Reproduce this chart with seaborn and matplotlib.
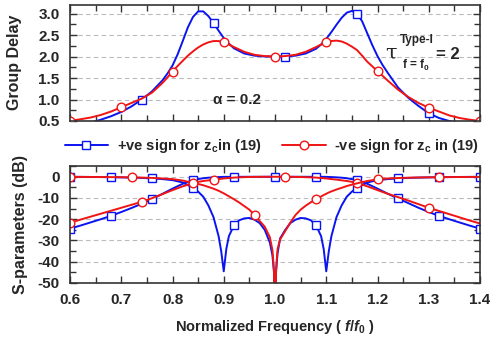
import numpy as np
import matplotlib
matplotlib.use('Agg')
import matplotlib.pyplot as plt
import seaborn as sns
from matplotlib.ticker import MultipleLocator, FormatStrFormatter

# ---------------- data: group delay (top panel) ----------------
f_gd = [0.60, 0.62, 0.64, 0.66, 0.68, 0.70, 0.72, 0.74, 0.76, 0.78,
        0.79, 0.80, 0.81, 0.82, 0.83, 0.84, 0.85, 0.86, 0.87, 0.88, 0.89, 0.90, 0.91, 0.92,
        0.94, 0.96, 0.98, 1.00, 1.02, 1.04, 1.06, 1.08,
        1.09, 1.10, 1.11, 1.12, 1.13, 1.14, 1.15, 1.16, 1.17, 1.18, 1.19, 1.20, 1.21, 1.22,
        1.24, 1.26, 1.28, 1.30, 1.32, 1.34, 1.36, 1.38, 1.40]
gd_pos = [0.36, 0.40, 0.46, 0.53, 0.61, 0.71, 0.84, 1.00, 1.19, 1.44,
          1.60, 1.79, 2.05, 2.36, 2.68, 2.92, 3.05, 3.05, 2.94, 2.78, 2.60, 2.43, 2.30, 2.19,
          2.07, 2.02, 2.00, 2.00, 2.00, 2.02, 2.07, 2.18,
          2.28, 2.41, 2.57, 2.74, 2.90, 3.02, 3.06, 3.00, 2.82, 2.54, 2.26, 2.01, 1.80, 1.62,
          1.28, 1.04, 0.85, 0.68, 0.57, 0.50, 0.44, 0.40, 0.37]
gd_neg = [0.50, 0.54, 0.58, 0.64, 0.72, 0.82, 0.92, 1.02, 1.16, 1.38,
          1.51, 1.65, 1.78, 1.90, 2.02, 2.12, 2.21, 2.28, 2.33, 2.36, 2.36, 2.33, 2.28, 2.22,
          2.11, 2.04, 2.01, 2.00, 2.01, 2.04, 2.11, 2.22,
          2.28, 2.33, 2.36, 2.37, 2.35, 2.30, 2.23, 2.15, 2.02, 1.88, 1.77, 1.66, 1.55, 1.44,
          1.23, 1.06, 0.92, 0.81, 0.72, 0.63, 0.57, 0.53, 0.50]
gd_pos_marks = [0.74, 0.88, 1.02, 1.16, 1.30]
gd_neg_marks = [0.6, 0.7, 0.8, 0.9, 1.0, 1.1, 1.2, 1.3, 1.4]

# ---------------- data: S-parameters (bottom panel) ----------------
f_sp = [0.60, 0.62, 0.64, 0.66, 0.68, 0.70, 0.72, 0.74, 0.76, 0.78, 0.80, 0.82, 0.84,
        0.85, 0.86, 0.87, 0.88, 0.89, 0.895, 0.90, 0.905, 0.91, 0.92, 0.93, 0.94, 0.95,
        0.96, 0.97, 0.98, 0.99, 0.995, 0.998, 1.00, 1.002, 1.005, 1.01, 1.02, 1.03, 1.04,
        1.05, 1.06, 1.07, 1.08, 1.09, 1.095, 1.10, 1.105, 1.11, 1.12, 1.13, 1.14, 1.15,
        1.16, 1.18, 1.20, 1.22, 1.24, 1.26, 1.28, 1.30, 1.32, 1.34, 1.36, 1.38, 1.40]
s21_pos = [-24.4, -23.0, -21.5, -20.0, -18.4, -16.6, -14.7, -12.7, -10.5, -8.1, -5.6, -3.3, -1.6,
           -1.1, -0.7, -0.45, -0.28, -0.15, -0.1, -0.05, -0.04, -0.05, -0.06, -0.04, -0.02, -0.01,
           -0.02, -0.03, -0.02, -0.01, -0.01, -0.01, -0.01, -0.01, -0.01, -0.01, -0.02, -0.03, -0.02,
           -0.01, -0.02, -0.04, -0.06, -0.05, -0.04, -0.05, -0.1, -0.15, -0.28, -0.45, -0.7, -1.1,
           -1.6, -3.3, -5.6, -8.0, -10.2, -12.4, -14.6, -16.6, -18.4, -20.0, -21.5, -23.0, -24.4]
s11_pos = [-0.05, -0.06, -0.1, -0.15, -0.2, -0.3, -0.4, -0.55, -0.8, -1.1, -1.6, -2.7, -5.2,
           -7.0, -9.4, -13.5, -19.0, -28.0, -35.0, -44.5, -34.0, -28.0, -22.8, -20.5, -19.6, -19.4,
           -20.2, -21.8, -25.0, -31.0, -37.0, -45.0, -70.0, -45.0, -36.0, -29.0, -25.0, -21.8, -20.2,
           -19.4, -19.6, -20.5, -22.8, -28.0, -34.0, -44.5, -35.0, -28.0, -19.0, -13.5, -9.4, -7.0,
           -5.2, -2.7, -1.6, -1.1, -0.8, -0.55, -0.4, -0.3, -0.2, -0.15, -0.1, -0.06, -0.05]
s21_neg = [-21.7, -20.2, -18.8, -17.4, -16.0, -14.6, -13.2, -11.8, -10.1, -8.2, -6.3, -4.5, -3.0,
           -2.4, -2.0, -1.7, -1.45, -1.1, -0.95, -0.8, -0.7, -0.6, -0.4, -0.27, -0.18, -0.11,
           -0.07, -0.04, -0.02, -0.01, -0.0, -0.0, -0.0, -0.0, -0.0, -0.01, -0.01, -0.03, -0.07,
           -0.12, -0.2, -0.28, -0.4, -0.6, -0.7, -0.8, -0.95, -1.1, -1.35, -1.7, -2.0, -2.4,
           -2.9, -4.5, -6.3, -8.0, -9.6, -11.2, -12.9, -14.6, -16.1, -17.6, -19.1, -20.6, -22.0]
s11_neg = [-0.05, -0.07, -0.1, -0.13, -0.17, -0.22, -0.3, -0.4, -0.55, -0.8, -1.1, -1.8, -2.9,
           -3.4, -4.0, -4.8, -5.6, -6.6, -7.2, -7.8, -8.5, -9.2, -10.6, -12.1, -13.8, -15.5,
           -18.0, -20.8, -23.5, -28.5, -34.5, -44.0, -80.0, -44.0, -34.0, -29.5, -25.5, -21.5, -18.0,
           -15.5, -13.6, -12.0, -10.7, -9.3, -8.6, -8.0, -7.4, -6.9, -6.0, -5.2, -4.4, -3.7,
           -3.1, -2.0, -1.2, -0.8, -0.6, -0.45, -0.35, -0.28, -0.22, -0.17, -0.13, -0.1, -0.07]
sp_pos_marks = [0.60, 0.68, 0.76, 0.84, 0.92, 1.00, 1.08, 1.16, 1.24, 1.32, 1.40]
s11_neg_marks = [0.60, 0.72, 0.84, 0.96, 1.08, 1.20, 1.32]
s21_neg_marks = [0.60, 0.74, 0.88, 1.02, 1.16, 1.30]

legend_labels = [r'+ve sign for z$_{\mathrm{c}}$in (19)', r'-ve sign for z$_{\mathrm{c}}$ in (19)']

BLUE = '#0A14F0'
RED = '#F01414'

sns.set_style('ticks')
plt.rcParams['font.family'] = ['Liberation Sans', 'DejaVu Sans']
plt.rcParams['font.weight'] = 'bold'
plt.rcParams['axes.unicode_minus'] = False
plt.rcParams['mathtext.fontset'] = 'custom'
plt.rcParams['mathtext.rm'] = 'Liberation Sans:bold'
plt.rcParams['mathtext.it'] = 'Liberation Sans:italic:bold'
plt.rcParams['mathtext.bf'] = 'Liberation Sans:bold'

W, H = 490, 341
fig = plt.figure(figsize=(W / 100, H / 100), dpi=100)
ax1 = fig.add_axes([70 / W, 1 - 121 / H, 410 / W, (121 - 4.5) / H])
ax2 = fig.add_axes([70 / W, 1 - 283 / H, 410 / W, (283 - 165.7) / H])


def draw(ax, x, y, marks, color, marker, ms):
    xa = np.asarray(x)
    idx = [int(np.argmin(np.abs(xa - v))) for v in marks]
    sns.lineplot(x=x, y=y, ax=ax, color=color, linewidth=1.4, marker=marker,
                 markevery=idx, markersize=ms, markerfacecolor='white',
                 markeredgecolor=color, markeredgewidth=1.0,
                 estimator=None, sort=False, legend=False)
    return ax.lines[-1]


draw(ax1, f_gd, gd_pos, gd_pos_marks, BLUE, 's', 5.6)
draw(ax1, f_gd, gd_neg, gd_neg_marks, RED, 'o', 6.2)

h1 = draw(ax2, f_sp, s21_pos, sp_pos_marks, BLUE, 's', 5.6)
draw(ax2, f_sp, s11_pos, sp_pos_marks, BLUE, 's', 5.6)
h2 = draw(ax2, f_sp, s21_neg, s21_neg_marks, RED, 'o', 6.2)
draw(ax2, f_sp, s11_neg, s11_neg_marks, RED, 'o', 6.2)

ax1.set_xlim(0.6, 1.4)
ax1.set_ylim(0.5, 3.21)
ax2.set_xlim(0.6, 1.4)
ax2.set_ylim(-50, 5.2)

for ax in (ax1, ax2):
    ax.xaxis.set_major_locator(MultipleLocator(0.1))
    ax.xaxis.set_minor_locator(MultipleLocator(0.05))
    ax.tick_params(which='both', direction='in', top=True, right=True,
                   width=1.0, color='#333333', labelsize=11, pad=7.5)
    ax.tick_params(which='major', length=5)
    ax.tick_params(which='minor', length=4)
    ax.yaxis.grid(True, linestyle=(0, (4, 3)), color='#bbbbbb', linewidth=0.8)
    ax.xaxis.grid(False)
    ax.set_axisbelow(True)
    for s in ax.spines.values():
        s.set_color('#333333')
        s.set_linewidth(1.2)
    for lab in ax.get_xticklabels() + ax.get_yticklabels():
        lab.set_fontweight('bold')

ax1.yaxis.set_major_locator(MultipleLocator(0.5))
ax1.yaxis.set_minor_locator(MultipleLocator(0.25))
ax1.yaxis.set_major_formatter(FormatStrFormatter('%.1f'))
ax1.tick_params(labelbottom=False)
ax2.yaxis.set_major_locator(MultipleLocator(10))
ax2.yaxis.set_minor_locator(MultipleLocator(5))
ax2.xaxis.set_major_formatter(FormatStrFormatter('%.1f'))

ax1.set_xlabel('')
ax1.set_ylabel('Group Delay', fontsize=11.5, fontweight='bold')
ax1.yaxis.set_label_coords(-0.116, 0.5)
ax2.set_ylabel('S-parameters (dB)', fontsize=11.5, fontweight='bold')
ax2.yaxis.set_label_coords(-0.103, 0.5)
ax2.set_xlabel(r'Normalized Frequency ( $f/f_{0}$ )', fontsize=10.5, fontweight='bold')
ax2.xaxis.set_label_coords(0.5, -0.30)

# annotations
ax1.text(0.926, 1.0, '\u03b1 = 0.2', fontsize=11, fontweight='bold', ha='center', va='center')
ax1.text(1.226, 2.08, '\u03c4', fontsize=15, family=['DejaVu Serif'], fontweight='normal',
         ha='center', va='center')
ax1.text(1.277, 2.38, 'Type-I', fontsize=8.5, fontweight='bold', ha='center', va='center')
ax1.text(1.275, 1.80, r'f = f$_{0}$', fontsize=8.5, fontweight='bold', ha='center', va='center')
ax1.text(1.338, 2.04, '= 2', fontsize=12, fontweight='bold', ha='center', va='center')

fig.legend([h1, h2], legend_labels, loc='center', bbox_to_anchor=(0.555, 0.573),
           ncol=2, frameon=False, fontsize=10.5, handlelength=3.0,
           handletextpad=0.6, columnspacing=1.4, borderaxespad=0)

fig.savefig('out.png', dpi=100)
